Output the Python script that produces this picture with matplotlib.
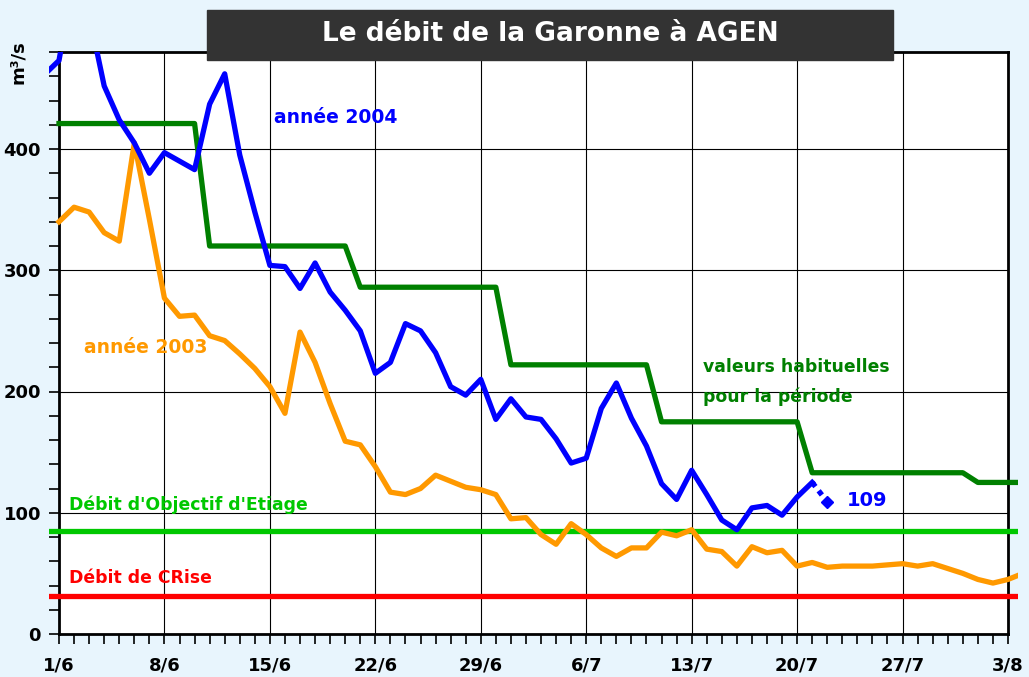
import matplotlib.pyplot as plt
from matplotlib.patches import Rectangle

# day index: 0 = 1/6, 63 = 3/8
days_2004 = list(range(-1, 52))
flow_2004 = [461, 473, 543, 511, 452, 424, 405, 380, 397, 390, 383, 437, 462, 395,
             348, 304, 303, 285, 306, 282, 267, 250, 215, 224, 256, 250, 232, 204,
             197, 210, 177, 194, 179, 177, 161, 141, 145, 186, 207, 178, 155, 124,
             111, 135, 115, 94, 86, 104, 106, 98, 113, 125, 109]

days_2003 = list(range(0, 65))
flow_2003 = [340, 352, 348, 331, 324, 405, 342, 277, 262, 263, 246, 242, 231, 219,
             204, 182, 249, 224, 190, 159, 156, 138, 117, 115, 120, 131, 126, 121,
             119, 115, 95, 96, 82, 74, 91, 82, 71, 64, 71, 71, 84, 81, 86, 70, 68,
             56, 72, 67, 69, 56, 59, 55, 56, 56, 56, 57, 58, 56, 58, 54, 50, 45,
             42, 45, 50]

days_usual = list(range(0, 65))
flow_usual = [421] * 10 + [320] * 10 + [286] * 10 + [222] * 10 + [175] * 10 + \
             [133] * 11 + [125] * 4

doe = 85      # Débit d'Objectif d'Etiage
dcr = 31      # Débit de CRise
plot_area = [-0.67, 63.67]   # Excel plot area runs a bit past the frame

tick_days = list(range(0, 64, 7))
tick_labels = ['1/6', '8/6', '15/6', '22/6', '29/6', '6/7', '13/7', '20/7', '27/7', '3/8']

plt.rcParams['font.family'] = ['DejaVu Sans']
plt.rcParams['font.weight'] = 'bold'

fig = plt.figure(figsize=(10.29, 6.77), dpi=100, facecolor='#e8f5fd')
W, H = 1029, 677
ax = fig.add_axes([59 / W, (H - 634) / H, (1008 - 59) / W, (634 - 52) / H])
ax.set_facecolor('white')

ax.set_xlim(0, 63)
ax.set_ylim(0, 480)

ax.set_xticks(tick_days)
ax.set_xticklabels(tick_labels)
ax.set_xticks(range(0, 64), minor=True)
ax.set_yticks([0, 100, 200, 300, 400])
ax.set_yticks(range(0, 481, 20), minor=True)
ax.tick_params(which='both', direction='out', length=7, width=1.2, color='black')
ax.tick_params(axis='x', pad=9, labelsize=13)
ax.tick_params(axis='y', pad=6, labelsize=13)
ax.grid(True, which='major', color='black', linewidth=0.8)
for s in ax.spines.values():
    s.set_linewidth(2)

clip = Rectangle((plot_area[0], 0), plot_area[1] - plot_area[0], 480,
                 transform=ax.transData, visible=False)
ax.add_patch(clip)


def curve(*args, **kw):
    for ln in ax.plot(*args, clip_on=True, **kw):
        ln.set_clip_path(clip)


curve(plot_area, [doe, doe], color='#00c800', lw=3.8, zorder=3)
curve(plot_area, [dcr, dcr], color='#ff0000', lw=3.8, zorder=3)
curve(days_usual, flow_usual, color='#008000', lw=3.8, zorder=4)
curve(days_2003, flow_2003, color='#ff9900', lw=3.8, zorder=4)
curve(days_2004[:-1], flow_2004[:-1], color='#0000ff', lw=3.8, zorder=5)
curve(days_2004[-2:], flow_2004[-2:], color='#0000ff', lw=3.8, ls=(0, (1, 1)), zorder=5)
curve(days_2004[-1:], flow_2004[-1:], 'D', color='#0000ff', ms=6, zorder=5)

ax.text(14.3, 426, 'année 2004', color='#0000ff', fontsize=13.5, va='center')
ax.text(1.65, 236, 'année 2003', color='#ff9900', fontsize=13.5, va='center')
ax.text(42.75, 220, 'valeurs habituelles', color='#008000', fontsize=12.4, va='center')
ax.text(42.75, 196, 'pour la période', color='#008000', fontsize=12.4, va='center')
ax.text(0.65, 107, "Débit d'Objectif d'Etiage", color='#00c800', fontsize=12.4, va='center')
ax.text(0.65, 46, 'Débit de CRise', color='#ff0000', fontsize=12.4, va='center')
ax.text(52.3, 110, '109', color='#0000ff', fontsize=14, va='center')

fig.text(18 / W, 1 - 62 / H, 'm³/s', rotation=90, fontsize=13, ha='center', va='center')

fig.patches.append(Rectangle((207 / W, 1 - 60 / H), 686 / W, 50 / H,
                             transform=fig.transFigure, color='#333333', zorder=5))
fig.text(550 / W, 1 - 34 / H, 'Le débit de la Garonne à AGEN', color='white',
         fontsize=19, ha='center', va='center', zorder=6)

fig.savefig('out.png', dpi=100, facecolor=fig.get_facecolor())
